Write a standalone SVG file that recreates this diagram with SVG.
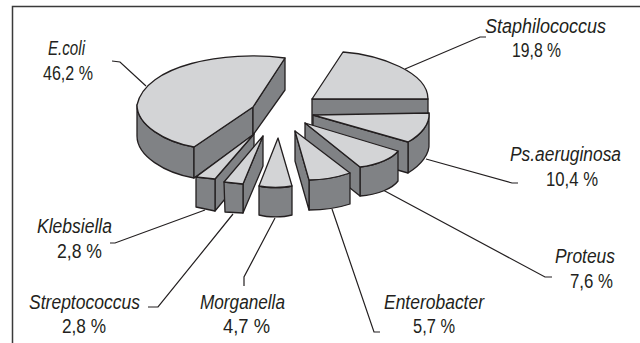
<svg xmlns="http://www.w3.org/2000/svg" width="640" height="343" viewBox="0 0 640 343">
<style>
.top{fill:#d3d4d6;stroke:#231f20;stroke-width:1.3;stroke-linejoin:round}
.side{fill:#808285;stroke:#231f20;stroke-width:1.3;stroke-linejoin:round}
.lead{fill:none;stroke:#231f20;stroke-width:1.2}
.frame{fill:none;stroke:#3a3a3a;stroke-width:1.5}
text{font-family:"Liberation Sans",Arial,sans-serif;font-size:20px;fill:#231f20;text-anchor:start}
.nm{font-style:italic}
</style>
<rect width="640" height="343" fill="#fff"/>
<path class="frame" d="M12.5,343 V6.5 H640"/>
<g id="connectors">
<polyline class="lead" points="112,61 120,62 146,86"/>
<polyline class="lead" points="405,69 480,37 486,37"/>
<polyline class="lead" points="426,159 512,183 518,183"/>
<polyline class="lead" points="383,190 545,277 552,277"/>
<polyline class="lead" points="332,209 374,332 380,332"/>
<polyline class="lead" points="275,218 244,277 244,286"/>
<polyline class="lead" points="233,214 158,307 148,307"/>
<polyline class="lead" points="205,210 115,243 110,243"/>
</g>
<g id="ecoli">
<path class="side" d="M137,105 L137,136 C137,156 165,173 194,178 L194,147 C165,142 137,125 137,105 Z"/>
<path class="side" d="M194,147 L253,107 L253,135 L194,178 Z"/>
<path class="side" d="M253,107 L285,58 L285,90 L253,135 Z"/>
<path class="top" d="M253,107 L285,58 C225,50 145,65 137,105 C137,125 165,142 194,147 Z"/>
<text class="nm" x="48" y="55" textLength="37" lengthAdjust="spacingAndGlyphs">E.coli</text>
<text x="43" y="80" textLength="50" lengthAdjust="spacingAndGlyphs">46,2 %</text>
</g>
<g id="staphylococcus">
<path class="side" d="M312,99 L428,99 L428,125 L312,125 Z"/>
<path class="top" d="M312,99 L343,52 C380,55 428,72 428,99 Z"/>
<text class="nm" x="485" y="33" textLength="121" lengthAdjust="spacingAndGlyphs">Staphilococcus</text>
<text x="512" y="57" textLength="49" lengthAdjust="spacingAndGlyphs">19,8 %</text>
</g>
<g id="psaeruginosa">
<path class="side" d="M429,113 L429,143 C430,154 421,165 408,173 L408,142 C421,135 430,124 429,113 Z"/>
<path class="side" d="M313,115 L408,142 L408,173 L313,146 Z"/>
<path class="top" d="M313,115 L429,113 C430,124 421,135 408,142 Z"/>
<text class="nm" x="510" y="161" textLength="111" lengthAdjust="spacingAndGlyphs">Ps.aeruginosa</text>
<text x="546" y="186" textLength="52" lengthAdjust="spacingAndGlyphs">10,4 %</text>
</g>
<g id="proteus">
<path class="side" d="M398,151 L398,181 C393,188 378,195 360,196 L360,167 C378,165 393,158 398,151 Z"/>
<path class="side" d="M305,123 L360,167 L360,196 L305,152 Z"/>
<path class="top" d="M305,123 L398,151 C393,158 378,165 360,167 Z"/>
<text class="nm" x="555" y="263" textLength="60" lengthAdjust="spacingAndGlyphs">Proteus</text>
<text x="570" y="288" textLength="43" lengthAdjust="spacingAndGlyphs">7,6 %</text>
</g>
<g id="enterobacter">
<path class="side" d="M350,173 L350,204 C338,208 322,210 309,210 L309,180 C322,180 338,177 350,173 Z"/>
<path class="side" d="M295,131 L309,180 L309,210 L295,161 Z"/>
<path class="top" d="M295,131 L350,173 C338,177 322,180 309,180 Z"/>
<text class="nm" x="384" y="309" textLength="100" lengthAdjust="spacingAndGlyphs">Enterobacter</text>
<text x="413" y="333" textLength="42" lengthAdjust="spacingAndGlyphs">5,7 %</text>
</g>
<g id="klebsiella">
<path class="side" d="M254,134 L215,179 L215,211 L254,164 Z"/>
<path class="side" d="M196,177 L215,179 L215,211 L196,207 Z"/>
<path class="top" d="M254,134 L196,177 L215,179 Z"/>
<text class="nm" x="37" y="233" textLength="75" lengthAdjust="spacingAndGlyphs">Klebsiella</text>
<text x="57" y="258" textLength="45" lengthAdjust="spacingAndGlyphs">2,8 %</text>
</g>
<g id="streptococcus">
<path class="side" d="M263,136 L243,184 L243,213 L263,166 Z"/>
<path class="side" d="M224,182 L243,184 L243,213 L225,212 Z"/>
<path class="top" d="M263,136 L224,182 L243,184 Z"/>
<text class="nm" x="29" y="309" textLength="111" lengthAdjust="spacingAndGlyphs">Streptococcus</text>
<text x="62" y="333" textLength="44" lengthAdjust="spacingAndGlyphs">2,8 %</text>
</g>
<g id="morganella">
<path class="side" d="M259,186 C268,188 283,188 292,186 L292,215 C283,217.5 268,217.5 259,215 Z"/>
<path class="top" d="M278,138 L259,186 C268,188 283,188 292,186 Z"/>
<text class="nm" x="200" y="309" textLength="85" lengthAdjust="spacingAndGlyphs">Morganella</text>
<text x="223" y="333" textLength="47" lengthAdjust="spacingAndGlyphs">4,7 %</text>
</g>
</svg>
